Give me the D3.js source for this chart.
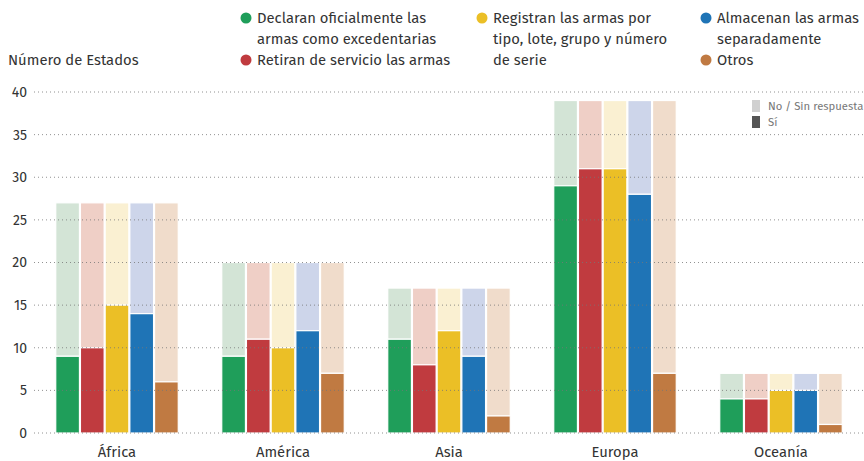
<!DOCTYPE html>
<html>
<head>
<meta charset="utf-8">
<script src="https://cdn.jsdelivr.net/npm/d3@7"></script>
<style>
  body { margin: 0; background: #fff; }
  svg { display: block; font-family: "Fira Sans", "Open Sans", sans-serif; }
</style>
</head>
<body>
<div id="chart"></div>
<script>
const regions = ["África", "América", "Asia", "Europa", "Oceanía"];
const totals = [27, 20, 17, 39, 7];
const seriesNames = [
  "Declaran oficialmente las armas como excedentarias",
  "Retiran de servicio las armas",
  "Registran las armas por tipo, lote, grupo y número de serie",
  "Almacenan las armas separadamente",
  "Otros"
];
const declaran = [9, 9, 11, 29, 4];
const retiran = [10, 11, 8, 31, 4];
const registran = [15, 10, 12, 31, 5];
const almacenan = [14, 12, 9, 28, 5];
const otros = [6, 7, 2, 7, 1];
const yTicks = [0, 5, 10, 15, 20, 25, 30, 35, 40];

const series = [declaran, retiran, registran, almacenan, otros];
const darkColors = ["#1f9e5a", "#c03b3f", "#ebbf26", "#1f74b6", "#c07a42"];
const lightColors = ["#d3e4d6", "#efcfc6", "#faf0d2", "#cdd5ea", "#f0dccb"];

const width = 864, height = 461;
const svg = d3.select("#chart").append("svg")
  .attr("width", width).attr("height", height);

//scales
const x = d3.scaleBand().domain(regions).range([34, 864])
  .paddingInner(0.25).paddingOuter(0.125);
const xSub = d3.scaleBand().domain(d3.range(5)).range([0, x.bandwidth()]).padding(0.04);
const y = d3.scaleLinear().domain([0, 40]).range([433, 92]);

//bars
regions.forEach((r, i) => {
  const g = svg.append("g").attr("transform", `translate(${x(r)},0)`);
  series.forEach((s, j) => {
    //no / sin respuesta part
    g.append("rect")
      .attr("x", xSub(j)).attr("width", xSub.bandwidth())
      .attr("y", y(totals[i])).attr("height", y(s[i]) - y(totals[i]))
      .attr("fill", lightColors[j])
      .attr("stroke", "#fff").attr("stroke-width", 1.2);
    //sí part
    g.append("rect")
      .attr("x", xSub(j)).attr("width", xSub.bandwidth())
      .attr("y", y(s[i])).attr("height", y(0) - y(s[i]))
      .attr("fill", darkColors[j])
      .attr("stroke", "#fff").attr("stroke-width", 1.2);
  });
});

//grid + y axis
const yAxis = svg.append("g");
yTicks.forEach(t => {
  yAxis.append("line")
    .attr("x1", 34).attr("x2", 864)
    .attr("y1", y(t)).attr("y2", y(t))
    .attr("stroke", "#777").attr("stroke-width", 1)
    .attr("stroke-dasharray", "1,3").attr("opacity", 0.8);
  yAxis.append("text")
    .attr("x", 27).attr("y", y(t)).attr("dy", "0.35em")
    .attr("text-anchor", "end").attr("font-size", 14).attr("fill", "#333")
    .text(t);
});

svg.append("text")
  .attr("x", 8).attr("y", 65)
  .attr("font-size", 14.8).attr("fill", "#333")
  .text("Número de Estados");

//x labels
svg.append("g").selectAll("text").data(regions).join("text")
  .attr("x", d => x(d) + x.bandwidth() / 2).attr("y", 457)
  .attr("text-anchor", "middle").attr("font-size", 14.8).attr("fill", "#333")
  .text(d => d);

//legend
const legendItems = [
  { x: 246, y: 18, lines: ["Declaran oficialmente las", "armas como excedentarias"] },
  { x: 246, y: 60, lines: ["Retiran de servicio las armas"] },
  { x: 482, y: 18, lines: ["Registran las armas por", "tipo, lote, grupo y número", "de serie"] },
  { x: 706, y: 18, lines: ["Almacenan las armas", "separadamente"] },
  { x: 706, y: 60, lines: ["Otros"] }
];
legendItems.forEach((it, j) => {
  svg.append("circle").attr("cx", it.x).attr("cy", it.y).attr("r", 5.5)
    .attr("fill", darkColors[j]);
  const t = svg.append("text").attr("font-size", 14.8).attr("fill", "#333");
  it.lines.forEach((l, k) => {
    t.append("tspan").attr("x", it.x + 11).attr("y", it.y + 5 + k * 21).text(l);
  });
});

//small legend
svg.append("rect").attr("x", 752).attr("y", 100).attr("width", 8).attr("height", 12).attr("fill", "#d0d0d0");
svg.append("rect").attr("x", 752).attr("y", 116).attr("width", 8).attr("height", 12).attr("fill", "#555");
svg.append("text").attr("x", 768).attr("y", 110).attr("font-size", 11.3).attr("fill", "#777").text("No / Sin respuesta");
svg.append("text").attr("x", 768).attr("y", 126).attr("font-size", 11.3).attr("fill", "#777").text("Sí");
</script>
</body>
</html>
